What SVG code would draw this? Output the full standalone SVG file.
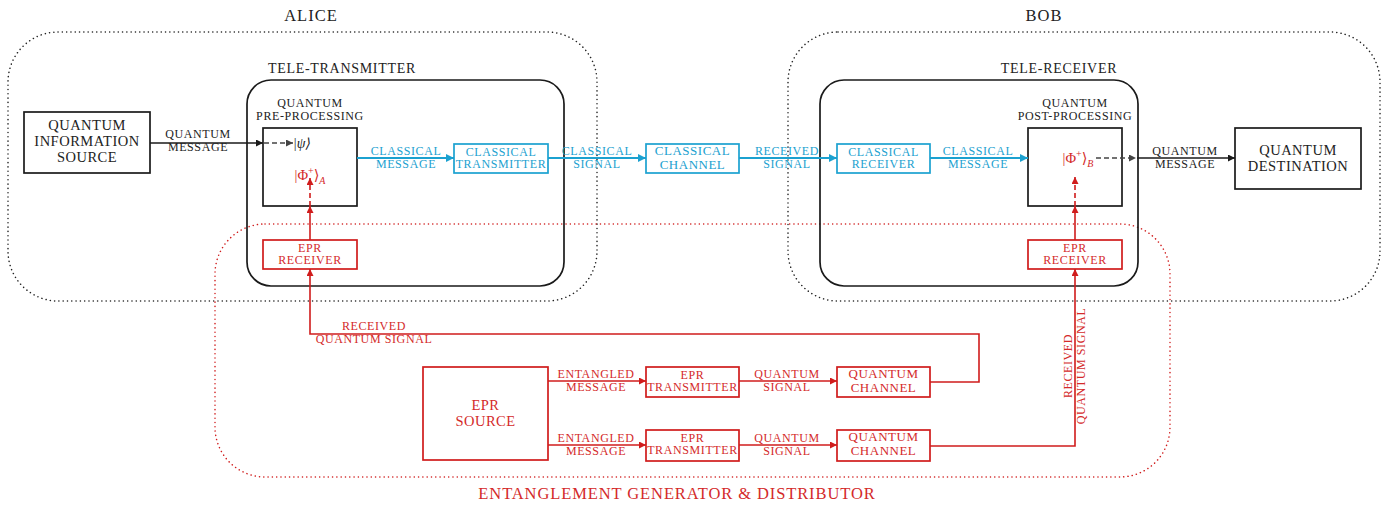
<svg xmlns="http://www.w3.org/2000/svg" width="1394" height="506" viewBox="0 0 1394 506">
<defs>
<style>
text{font-family:'Liberation Serif','DejaVu Serif',serif;text-anchor:middle}
.k{fill:#222}
.c{fill:#1ba1d0}
.r{fill:#d42a2a}
.bk{fill:none;stroke:#1a1a1a;stroke-width:1.7}
.bc{fill:none;stroke:#1ba1d0;stroke-width:1.7}
.br{fill:none;stroke:#d01c1c;stroke-width:1.7}
.dot{fill:none;stroke:#222;stroke-width:1.5;stroke-dasharray:0.1 4.2;stroke-linecap:round}
.dotr{fill:none;stroke:#d01c1c;stroke-width:1.5;stroke-dasharray:0.1 4.2;stroke-linecap:round}
.lk{fill:none;stroke:#1a1a1a;stroke-width:1.6}
.lc{fill:none;stroke:#1ba1d0;stroke-width:1.8}
.lr{fill:none;stroke:#d01c1c;stroke-width:1.6}
.s11{font-size:12px;letter-spacing:0.6px}
.s12{font-size:13px;letter-spacing:0.5px}
.s14{font-size:14.5px;letter-spacing:0.5px}
.big{font-size:16.5px;letter-spacing:1px}
.tt{font-size:14px;letter-spacing:0.7px}
</style>
<marker id="ak" viewBox="0 0 10 10" refX="10" refY="5" markerWidth="7" markerHeight="7" markerUnits="userSpaceOnUse" orient="auto"><path d="M0,0 L10,5 L0,10 Z" fill="#1a1a1a"/></marker>
<marker id="ag" viewBox="0 0 10 10" refX="10" refY="5" markerWidth="7" markerHeight="7" markerUnits="userSpaceOnUse" orient="auto"><path d="M0,0 L10,5 L0,10 Z" fill="#444"/></marker>
<marker id="ac" viewBox="0 0 10 10" refX="10" refY="5" markerWidth="8" markerHeight="8" markerUnits="userSpaceOnUse" orient="auto"><path d="M0,0 L10,5 L0,10 Z" fill="#1ba1d0"/></marker>
<marker id="ar" viewBox="0 0 10 10" refX="10" refY="5" markerWidth="7" markerHeight="7" markerUnits="userSpaceOnUse" orient="auto"><path d="M0,0 L10,5 L0,10 Z" fill="#d01c1c"/></marker>
</defs>
<rect width="1394" height="506" fill="#fff"/>

<g id="alice">
<rect class="dot" x="8" y="32" width="589" height="269" rx="50"/>
<text class="k big" x="311" y="21">ALICE</text>
</g>
<g id="bob">
<rect class="dot" x="788" y="32" width="592" height="269" rx="50"/>
<text class="k big" x="1044" y="21">BOB</text>
</g>
<g id="egd">
<rect class="dotr" x="215" y="224" width="955" height="253" rx="50"/>
<text class="r" x="677" y="499" font-size="16.5" letter-spacing="0.9">ENTANGLEMENT GENERATOR &amp; DISTRIBUTOR</text>
</g>

<g id="tele-transmitter">
<rect class="bk" x="247" y="80" width="317" height="206" rx="24"/>
<text class="k tt" x="342" y="73">TELE-TRANSMITTER</text>
</g>
<g id="tele-receiver">
<rect class="bk" x="820" y="80" width="318" height="206" rx="24"/>
<text class="k tt" x="1059" y="73">TELE-RECEIVER</text>
</g>

<g id="quantum-information-source">
<rect class="bk" x="24" y="112" width="126" height="61"/>
<text class="k s14" x="87" y="130">QUANTUM<tspan x="87" dy="16">INFORMATION</tspan><tspan x="87" dy="16">SOURCE</tspan></text>
</g>

<g id="pre-processing">
<rect class="bk" x="263" y="128" width="94" height="78"/>
<text class="k s11" x="310" y="107" font-size="11.5" letter-spacing="0.4">QUANTUM<tspan x="310" dy="12.5">PRE-PROCESSING</tspan></text>
<text class="k" x="302" y="148" font-size="14" font-style="italic">|ψ⟩</text>
<text class="r" x="310" y="180" font-size="14.5">|Φ<tspan font-size="10" dy="-6">+</tspan><tspan dy="6">⟩</tspan><tspan font-size="10" font-style="italic" dy="4">A</tspan></text>
</g>

<g id="epr-receiver-a">
<rect class="br" x="263" y="240" width="94" height="29"/>
<text class="r s11" x="310" y="252">EPR<tspan x="310" dy="12">RECEIVER</tspan></text>
</g>

<g id="classical-transmitter">
<rect class="bc" x="454" y="144" width="94" height="29"/>
<text class="c s11" x="501" y="156">CLASSICAL<tspan x="501" dy="12">TRANSMITTER</tspan></text>
</g>
<g id="classical-channel">
<rect class="bc" x="646" y="144" width="93" height="29"/>
<text class="c s12" x="692.5" y="155">CLASSICAL<tspan x="692.5" dy="14">CHANNEL</tspan></text>
</g>
<g id="classical-receiver">
<rect class="bc" x="837" y="144" width="93" height="29"/>
<text class="c s11" x="883.5" y="156">CLASSICAL<tspan x="883.5" dy="12">RECEIVER</tspan></text>
</g>

<g id="post-processing">
<rect class="bk" x="1028" y="128" width="94" height="78"/>
<text class="k s11" x="1075" y="107" font-size="11.5" letter-spacing="0.4">QUANTUM<tspan x="1075" dy="12.5">POST-PROCESSING</tspan></text>
<text class="r" x="1078" y="163" font-size="14.5">|Φ<tspan font-size="10" dy="-6">+</tspan><tspan dy="6">⟩</tspan><tspan font-size="10" font-style="italic" dy="4">B</tspan></text>
</g>

<g id="epr-receiver-b">
<rect class="br" x="1028" y="240" width="94" height="29"/>
<text class="r s11" x="1075" y="252">EPR<tspan x="1075" dy="12">RECEIVER</tspan></text>
</g>

<g id="quantum-destination">
<rect class="bk" x="1235" y="128" width="126" height="61"/>
<text class="k s14" x="1298" y="155">QUANTUM<tspan x="1298" dy="16">DESTINATION</tspan></text>
</g>

<g id="epr-source">
<rect class="br" x="423" y="367" width="125" height="93"/>
<text class="r s14" x="485.5" y="410" font-size="15">EPR<tspan x="485.5" dy="16">SOURCE</tspan></text>
</g>
<g id="epr-transmitter-1">
<rect class="br" x="646" y="367" width="93" height="30"/>
<text class="r s11" x="692.5" y="379">EPR<tspan x="692.5" dy="12">TRANSMITTER</tspan></text>
</g>
<g id="epr-transmitter-2">
<rect class="br" x="646" y="430" width="93" height="31"/>
<text class="r s11" x="692.5" y="442">EPR<tspan x="692.5" dy="12">TRANSMITTER</tspan></text>
</g>
<g id="quantum-channel-1">
<rect class="br" x="837" y="367" width="93" height="30"/>
<text class="r s12" x="883.5" y="378">QUANTUM<tspan x="883.5" dy="14">CHANNEL</tspan></text>
</g>
<g id="quantum-channel-2">
<rect class="br" x="837" y="430" width="93" height="31"/>
<text class="r s12" x="883.5" y="441">QUANTUM<tspan x="883.5" dy="14">CHANNEL</tspan></text>
</g>

<g id="connectors">
<path class="lk" d="M150,143 H263" marker-end="url(#ak)"/>
<path d="M264,143 H293" fill="none" stroke="#444" stroke-width="1.4" stroke-dasharray="5 3" marker-end="url(#ag)"/>
<text class="k s11" x="198" y="138">QUANTUM<tspan x="198" dy="13">MESSAGE</tspan></text>

<path class="lr" d="M310,240 V206" marker-end="url(#ar)"/>
<path class="lr" d="M310,206 V178" stroke-dasharray="5 3" marker-end="url(#ar)"/>

<path class="lc" d="M357,158 H454" marker-end="url(#ac)"/>
<text class="c s11" x="406" y="155">CLASSICAL<tspan x="406" dy="12.5">MESSAGE</tspan></text>
<path class="lc" d="M548,158 H646" marker-end="url(#ac)"/>
<text class="c s11" x="597" y="155">CLASSICAL<tspan x="597" dy="12.5">SIGNAL</tspan></text>
<path class="lc" d="M739,158 H837" marker-end="url(#ac)"/>
<text class="c s11" x="787" y="155">RECEIVED<tspan x="787" dy="12.5">SIGNAL</tspan></text>
<path class="lc" d="M930,158 H1028" marker-end="url(#ac)"/>
<text class="c s11" x="978" y="155">CLASSICAL<tspan x="978" dy="12.5">MESSAGE</tspan></text>

<path d="M1096,158 H1136" fill="none" stroke="#444" stroke-width="1.4" stroke-dasharray="5 3" marker-end="url(#ag)"/>
<path class="lk" d="M1137,158 H1235" marker-end="url(#ak)"/>
<text class="k s11" x="1185" y="155">QUANTUM<tspan x="1185" dy="13">MESSAGE</tspan></text>

<path class="lr" d="M1075,240 V206" marker-end="url(#ar)"/>
<path class="lr" d="M1075,206 V177" stroke-dasharray="5 3" marker-end="url(#ar)"/>

<path class="lr" d="M548,381 H646" marker-end="url(#ar)"/>
<text class="r s11" x="596" y="378">ENTANGLED<tspan x="596" dy="12.5">MESSAGE</tspan></text>
<path class="lr" d="M548,445 H646" marker-end="url(#ar)"/>
<text class="r s11" x="596" y="442">ENTANGLED<tspan x="596" dy="12.5">MESSAGE</tspan></text>
<path class="lr" d="M739,381 H837" marker-end="url(#ar)"/>
<text class="r s11" x="787" y="378">QUANTUM<tspan x="787" dy="12.5">SIGNAL</tspan></text>
<path class="lr" d="M739,445 H837" marker-end="url(#ar)"/>
<text class="r s11" x="787" y="442">QUANTUM<tspan x="787" dy="12.5">SIGNAL</tspan></text>

<path class="lr" d="M930,382 H979 V334 H310 V269" marker-end="url(#ar)"/>
<text class="r s11" x="374" y="330">RECEIVED<tspan x="374" dy="13">QUANTUM SIGNAL</tspan></text>

<path class="lr" d="M930,446 H1075 V269" marker-end="url(#ar)"/>
<text class="r s11" transform="translate(1072,366) rotate(-90)" x="0" y="0">RECEIVED<tspan x="0" dy="13">QUANTUM SIGNAL</tspan></text>
</g>
</svg>
